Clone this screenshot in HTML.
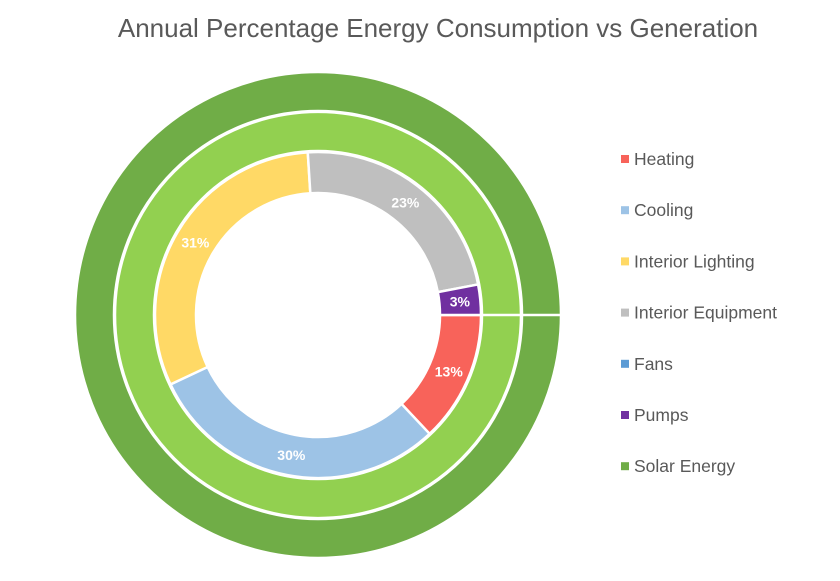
<!DOCTYPE html>
<html><head><meta charset="utf-8"><style>
body{margin:0;background:#fff;}
svg{display:block;font-family:"Liberation Sans",sans-serif;}
</style></head><body>
<svg id="chart" width="840" height="581">
<text x="438" y="37" text-anchor="middle" font-size="26" fill="#595959">Annual Percentage Energy Consumption vs Generation</text>
<g id="rings"></g>
<g id="legend"></g>
</svg>
<script>
const categories=["Heating","Cooling","Interior Lighting","Interior Equipment","Fans","Pumps"];
const consumption=[13,30,31,23,0,3];
const colors=["#F8635A","#9DC3E6","#FFD966","#BFBFBF","#5B9BD5","#7030A0"];
const generation=[100];
const middleRing=[100];
const legendLabels=["Heating","Cooling","Interior Lighting","Interior Equipment","Fans","Pumps","Solar Energy"];
const legendColors=["#F8635A","#9DC3E6","#FFD966","#BFBFBF","#5B9BD5","#7030A0","#70AD47"];
const NS="http://www.w3.org/2000/svg";
const cx=318,cy=315;
function pt(r,a){return [cx+r*Math.cos(a),cy+r*Math.sin(a)];}
function arc(r0,r1,a0,a1){
  if(a1-a0>=Math.PI*2-1e-6){
    return `M${cx+r1},${cy} A${r1},${r1} 0 1 1 ${cx-r1},${cy} A${r1},${r1} 0 1 1 ${cx+r1},${cy} Z M${cx+r0},${cy} A${r0},${r0} 0 1 0 ${cx-r0},${cy} A${r0},${r0} 0 1 0 ${cx+r0},${cy} Z`;
  }
  const l=(a1-a0)>Math.PI?1:0;
  const [x1,y1]=pt(r1,a0),[x2,y2]=pt(r1,a1),[x3,y3]=pt(r0,a1),[x4,y4]=pt(r0,a0);
  return `M${x1},${y1} A${r1},${r1} 0 ${l} 1 ${x2},${y2} L${x3},${y3} A${r0},${r0} 0 ${l} 0 ${x4},${y4} Z`;
}
const g=document.getElementById('rings');
function ring(vals,cols,r0,r1,names,labels){
  const tot=vals.reduce((a,b)=>a+b,0);let acc=0;
  vals.forEach((v,i)=>{
    if(v<=0){return;}
    const a0=acc/tot*2*Math.PI;acc+=v;const a1=acc/tot*2*Math.PI;
    const p=document.createElementNS(NS,'path');
    p.setAttribute('d',arc(r0,r1,a0,a1));
    p.setAttribute('fill',cols[i]);p.setAttribute('stroke','#fff');p.setAttribute('stroke-width','2.5');
    p.setAttribute('fill-rule','evenodd');
    
    
    g.appendChild(p);
    if(vals.length===1){
      const ln=document.createElementNS(NS,'line');
      ln.setAttribute('x1',cx+r0);ln.setAttribute('y1',cy);ln.setAttribute('x2',cx+r1+1);ln.setAttribute('y2',cy);
      ln.setAttribute('stroke','#fff');ln.setAttribute('stroke-width','2.5');
      
      
      g.appendChild(ln);
    }
    if(labels){
      const m=(a0+a1)/2,[tx,ty]=pt((r0+r1)/2,m);
      const t=document.createElementNS(NS,'text');
      t.setAttribute('x',tx);t.setAttribute('y',ty+5);t.setAttribute('text-anchor','middle');
      t.setAttribute('font-size','14');t.setAttribute('font-weight','bold');t.setAttribute('fill','#fff');
      t.textContent=v+'%';
      
      
      g.appendChild(t);
    }
  });
}
ring(generation,["#70AD47"],204,243,["solar-energy-ring"],false);
ring(middleRing,["#92D050"],164,203,["generation-ring"],false);
ring(consumption,colors,122,163,categories.map(c=>'slice-'+c.toLowerCase().replace(/ /g,'-')),true);
const lg=document.getElementById('legend');
legendLabels.forEach((l,i)=>{
  const y=159+i*51.2;
  const r=document.createElementNS(NS,'rect');
  r.setAttribute('x',621);r.setAttribute('y',y-4);r.setAttribute('width',8);r.setAttribute('height',8);r.setAttribute('fill',legendColors[i]);
  
  
  lg.appendChild(r);
  const t=document.createElementNS(NS,'text');
  t.setAttribute('x',634);t.setAttribute('y',y+6);t.setAttribute('font-size','17.5');t.setAttribute('fill','#595959');
  t.textContent=l;
  
  
  lg.appendChild(t);
});
</script>
</body></html>
